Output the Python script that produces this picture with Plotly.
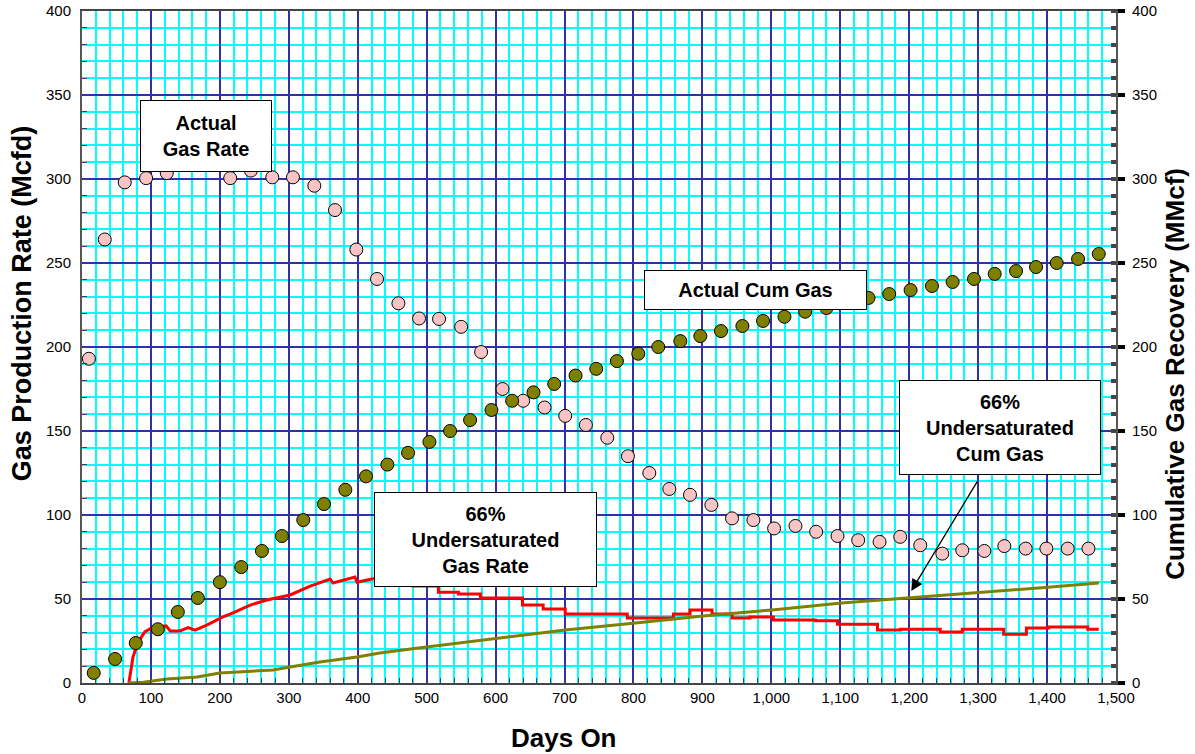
import plotly.graph_objects as go

# ---- data ----
rate_days = [10, 33, 62, 93, 123, 215, 245, 276, 306, 337, 367, 398, 428, 459, 489,
             518, 550, 579, 610, 640, 671, 701, 731, 762, 792, 823, 852, 882, 913, 943,
             974, 1004, 1035, 1065, 1096, 1126, 1157, 1187, 1216, 1248, 1277, 1309, 1338,
             1369, 1399, 1430, 1460]
rate_mcfd = [193, 264, 298, 300.5, 303.5, 300.5, 305, 301, 301, 296, 281.5, 258, 240.5, 226, 217,
             216.7, 212, 197, 175, 168, 164, 159, 153.6, 146, 135, 125, 115.5, 112, 106, 98,
             97, 92, 93.5, 90, 87.5, 85, 84, 87, 82, 77, 79, 78.6, 81.5,
             80, 80, 80, 80]

cum_days = [17, 48, 78, 110, 139, 168, 200, 231, 261, 290, 321, 351, 382, 412, 443, 473, 504,
            534, 563, 594, 624, 655, 685, 716, 746, 776, 807, 836, 868, 897, 927, 958, 988,
            1019, 1049, 1080, 1141, 1171, 1202, 1233, 1263, 1294, 1324, 1355, 1384, 1414,
            1445, 1475]
cum_mmcf = [6, 14.3, 23.8, 32, 42.3, 50.6, 60, 69, 78.6, 87.5, 97, 106.5, 115, 123, 130, 137, 143.5,
            150, 156.5, 162.5, 168, 173, 178, 183, 187, 191.6, 196, 200, 203.5, 206.5, 209.5, 212.5, 215.5,
            218, 221, 223.2, 229.2, 231.5, 233.9, 236.3, 238.7, 240.5, 243.5, 245.2, 247.6, 250,
            252.4, 255.4]

usat_rate_ramp_days = [68, 74, 81, 91, 101, 122, 128, 142, 154, 164, 181, 203, 219, 244, 268,
                       302, 331, 360, 364, 396, 399, 422]
usat_rate_ramp = [0, 15.5, 24, 30.4, 32.7, 34, 31, 31, 33, 31.5, 34.5, 39, 41.7, 46.4, 49.4,
                  52.4, 57.7, 61.9, 59.5, 63, 60, 62]
usat_rate_step_days = [422, 480, 517, 546, 578, 639, 669, 701, 791, 858, 882, 914, 943, 969,
                       1003, 1064, 1096, 1154, 1187, 1245, 1277, 1337, 1370, 1402, 1459, 1475]
usat_rate_step = [62, 57.7, 54, 53, 50.6, 46.4, 44, 41, 38.7, 41, 43.5, 41, 38.7, 39.3,
                  37.5, 37, 35, 31.5, 32, 30.4, 32, 29, 32.7, 33.3, 32, 32]

usat_cum_days = [67, 89, 123, 167, 200, 277, 302, 345, 399, 432, 488, 500, 602, 701, 803,
                 901, 984, 1001, 1102, 1202, 1302, 1401, 1475]
usat_cum = [0, 0.5, 2.4, 3.6, 6, 7.7, 9.5, 12.5, 15.5, 17.9, 20.8, 21.4, 26.8, 31.5, 35.7,
            39.9, 42.9, 43.5, 47.6, 50.6, 53.6, 57, 59.5]

FONT = "Arial, Liberation Sans, sans-serif"
OLIVE = "#7f7f00"
PINK = "#fac4c4"
CYAN = "#00ffff"
NAVY = "#3030a8"

fig = go.Figure()

fig.add_trace(go.Scatter(x=usat_cum_days, y=usat_cum, mode="lines", yaxis="y2",
                         line=dict(color=OLIVE, width=3), name="66% Undersaturated Cum Gas"))
fig.add_trace(go.Scatter(x=usat_rate_ramp_days, y=usat_rate_ramp, mode="lines",
                         line=dict(color="#ff0000", width=3), name="66% Undersaturated Gas Rate"))
fig.add_trace(go.Scatter(x=usat_rate_step_days, y=usat_rate_step, mode="lines",
                         line=dict(color="#ff0000", width=3, shape="hv"),
                         name="66% Undersaturated Gas Rate", showlegend=False))
fig.add_trace(go.Scatter(x=rate_days, y=rate_mcfd, mode="markers", name="Actual Gas Rate",
                         marker=dict(color=PINK, size=13, line=dict(color="black", width=1))))
fig.add_trace(go.Scatter(x=cum_days, y=cum_mmcf, mode="markers", yaxis="y2", name="Actual Cum Gas",
                         marker=dict(color=OLIVE, size=13, line=dict(color="black", width=1))))

axis_font = dict(family=FONT, size=15, color="black")

fig.update_layout(
    width=1195, height=754,
    margin=dict(l=82, r=79, t=11, b=71),
    paper_bgcolor="white", plot_bgcolor="white",
    showlegend=False,
    font=dict(family=FONT),
    xaxis=dict(range=[0, 1500], dtick=100, tickformat=",d", tickfont=axis_font,
               showgrid=True, gridcolor=NAVY, gridwidth=1.5,
               minor=dict(dtick=20, showgrid=True, gridcolor=CYAN, gridwidth=2,
                          ticks="inside", ticklen=5, tickcolor="#444"),
               ticks="inside", ticklen=5, tickcolor="#444",
               showline=True, linecolor="#444", linewidth=2, mirror=True,
               zeroline=False, automargin=False),
    yaxis=dict(range=[0, 400], dtick=50, tickfont=axis_font,
               showgrid=True, gridcolor=NAVY, gridwidth=1.5,
               minor=dict(dtick=10, showgrid=True, gridcolor=CYAN, gridwidth=2,
                          ticks="inside", ticklen=5, tickcolor="#444"),
               ticks="inside", ticklen=5, tickcolor="#444",
               showline=True, linecolor="#555", linewidth=2,
               zeroline=False, ticklabelstandoff=6, automargin=False),
    yaxis2=dict(range=[0, 400], dtick=50, tickfont=axis_font, overlaying="y", side="right",
                showgrid=False, zeroline=False,
                minor=dict(dtick=10, ticks="inside", ticklen=5, tickcolor="#444"),
                ticks="outside", ticklen=7, tickwidth=4, tickcolor="black",
                showline=True, linecolor="#555", linewidth=2, ticklabelstandoff=4,
                automargin=False),
)

def box(text, x, y, w, h):
    fig.add_annotation(x=x, y=y, xref="x", yref="y", text=text, showarrow=False,
                       font=dict(family=FONT, size=20, color="black", weight="bold"),
                       bgcolor="white", bordercolor="black", borderwidth=1, borderpad=0,
                       width=w, height=h, align="center", valign="middle")

box("Actual<br>Gas Rate", 180, 325.6, 130, 70)
box("Actual Cum Gas", 977, 234, 221, 38)
box("66%<br>Undersaturated<br>Gas Rate", 586, 85.7, 221, 93)
box("66%<br>Undersaturated<br>Cum Gas", 1332, 151.8, 200, 93)

# arrow pointing to the undersaturated cum gas line
fig.add_annotation(x=1203, y=54.8, xref="x", yref="y", ax=1300, ay=120.8, axref="x", ayref="y",
                   text="", showarrow=True, arrowhead=2, arrowsize=1.8, arrowwidth=1.3,
                   arrowcolor="black", standoff=0, startstandoff=0)

fig.add_annotation(text="Days On", xref="paper", yref="paper", x=0.466, y=-0.0818,
                   showarrow=False, font=dict(family=FONT, size=26, color="black", weight="bold"),
                   xanchor="center", yanchor="middle")
fig.add_annotation(text="Gas Production Rate (Mcfd)", xref="paper", yref="paper",
                   x=-0.058, y=0.565, textangle=-90, showarrow=False,
                   font=dict(family=FONT, size=27, color="black", weight="bold"),
                   xanchor="center", yanchor="middle")
fig.add_annotation(text="Cumulative Gas Recovery (MMcf)", xref="paper", yref="paper",
                   x=1.057, y=0.46, textangle=-90, showarrow=False,
                   font=dict(family=FONT, size=26, color="black", weight="bold"),
                   xanchor="center", yanchor="middle")

fig.write_html("out.html", config={"displayModeBar": False},
               post_script="document.body.style.margin='0';")
